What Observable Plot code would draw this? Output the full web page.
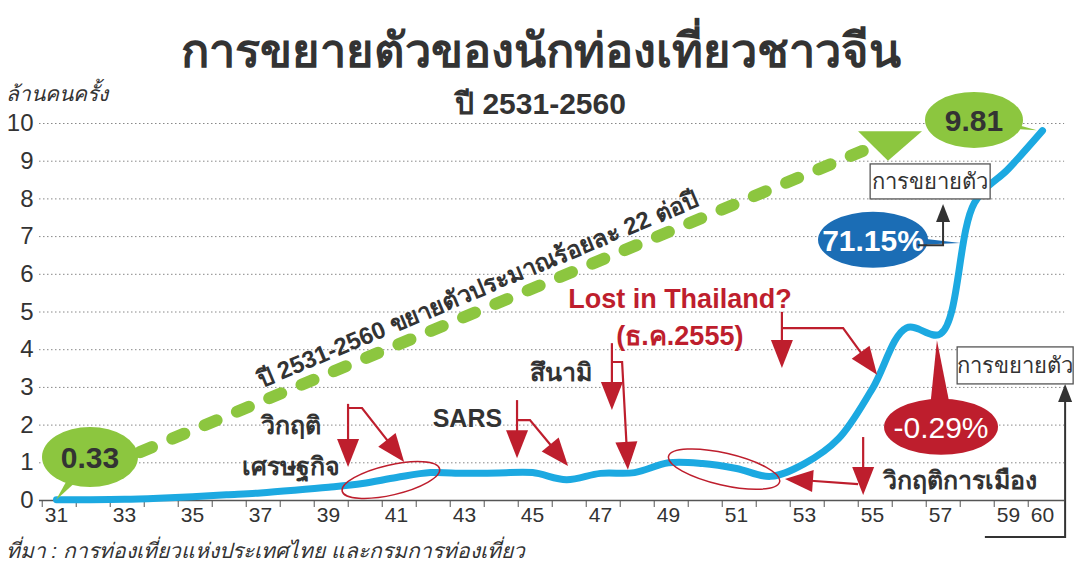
<!DOCTYPE html>
<html><head><meta charset="utf-8">
<script src="https://cdn.jsdelivr.net/npm/d3@7"></script>
<script src="https://cdn.jsdelivr.net/npm/@observablehq/plot@0.6"></script>
<style>
body{margin:0;background:#fff;}
#chart{width:1075px;height:577px;}
</style></head><body><div id="chart"></div>
<script>
// ---- data ----
const years = [31,32,33,34,35,36,37,38,39,40,41,42,43,44,45,46,47,48,49,50,51,52,53,54,55,56,57,58,59,60];
const visitors = [0.02,0.02,0.03,0.06,0.10,0.15,0.20,0.27,0.35,0.45,0.61,0.74,0.72,0.73,0.74,0.55,0.72,0.74,1.0,0.98,0.85,0.64,0.98,1.64,2.97,4.58,4.42,7.9,8.8,9.81];
const yTicks = [0,1,2,3,4,5,6,7,8,9,10];
const xLabelYears = [31,33,35,37,39,41,43,45,47,49,51,53,55,57,59,60];
const title = "การขยายตัวของนักท่องเที่ยวชาวจีน";
const subtitle = "ปี 2531-2560";
const unitLabel = "ล้านคนครั้ง";
const sourceLabel = "ที่มา : การท่องเที่ยวแห่งประเทศไทย และกรมการท่องเที่ยว";
const trendLabel = "ปี 2531-2560 ขยายตัวประมาณร้อยละ 22 ต่อปี";
const startValue = "0.33", endValue = "9.81";
const growth58 = "71.15%", growth57 = "-0.29%";
const growthBoxLabel = "การขยายตัว";
const events = [
  {lines:["วิกฤติ","เศรษฐกิจ"], x:37.9, y:[1.99,0.9]},
  {lines:["SARS"], x:43.1, y:[2.18]},
  {lines:["สึนามิ"], x:45.85, y:[3.4]},
  {lines:["วิกฤติการเมือง"], x:57.6, y:[0.53]}
];

const FONT = "'Liberation Sans Narrow','Liberation Sans',Arial,sans-serif";
const DARK = "#333", RED = "#be1e2d", GREEN = "#8cc63f", BLUE = "#1ca9e1", DBLUE = "#1b6db5";

const data = years.map((yr,i)=>({yr, v: visitors[i]}));

function arrow(g, pts, color, L, W, sw) {
  const [x1,y1] = pts[pts.length-2], [x2,y2] = pts[pts.length-1];
  const dx=x2-x1, dy=y2-y1, len=Math.hypot(dx,dy), ux=dx/len, uy=dy/len;
  const bx=x2-ux*L, by=y2-uy*L;
  const linePts = pts.slice(0,-1).concat([[bx+ux*2,by+uy*2]]);
  g.append("path").attr("d", d3.line()(linePts)).attr("fill","none").attr("stroke",color).attr("stroke-width",sw).attr("stroke-linejoin","miter");
  g.append("path").attr("d", `M${x2},${y2}L${bx-uy*W},${by+ux*W}L${bx+uy*W},${by-ux*W}Z`).attr("fill",color);
}
function bubble(g, cx, cy, rx, ry, tip, tailW, fill, label, color, fs, fw) {
  const dx = tip[0]-cx, dy = tip[1]-cy, len=Math.hypot(dx,dy), px=-dy/len, py=dx/len;
  g.append("path").attr("d", `M${cx+px*tailW},${cy+py*tailW}L${tip[0]},${tip[1]}L${cx-px*tailW},${cy-py*tailW}Z`).attr("fill",fill);
  g.append("ellipse").attr("cx",cx).attr("cy",cy).attr("rx",rx).attr("ry",ry).attr("fill",fill);
  g.append("text").attr("x",cx).attr("y",cy).attr("dy","0.36em").attr("text-anchor","middle")
    .attr("font-size",fs).attr("font-weight",fw).attr("fill",color).text(label);
}
function box(g, cx, cy, w, h, label) {
  g.append("rect").attr("x",cx-w/2).attr("y",cy-h/2).attr("width",w).attr("height",h)
    .attr("fill","#fff").attr("stroke","#555").attr("stroke-width",1.3);
  g.append("text").attr("x",cx).attr("y",cy).attr("dy","0.36em").attr("text-anchor","middle")
    .attr("font-size",22).attr("fill",DARK).text(label);
}

function annotations(index, scales) {
  const x = scales.x, y = scales.y;
  const P = (a,b) => [x(a), y(b)];
  const g = d3.create("svg:g").attr("font-family", FONT);

  // red ellipses around crisis periods
  [[40.85,0.53,50,15,-13],[50.65,0.82,57,16,13]].forEach(([a,b,rx,ry,r])=>{
    const [cx,cy] = P(a,b);
    g.append("ellipse").attr("cx",cx).attr("cy",cy).attr("rx",rx).attr("ry",ry)
      .attr("transform",`rotate(${r},${cx},${cy})`).attr("fill","none").attr("stroke",RED).attr("stroke-width",1.5);
  });

  // red event arrows
  const redArrows = [
    [[39.59,2.55],[39.59,0.875]],
    [[39.59,2.44],[40.0,2.44],[41.24,1.01]],
    [[44.56,2.65],[44.56,1.11]],
    [[44.56,2.12],[44.94,2.12],[46.06,0.9]],
    [[47.35,4.16],[47.35,2.39]],
    [[47.35,3.66],[47.65,3.66],[47.82,0.8]],
    [[52.35,4.99],[52.35,3.5]],
    [[52.35,4.56],[54.15,4.56],[55.15,3.32]],
    [[54.74,1.67],[54.74,0.13]],
    [[54.59,0.42],[52.44,0.56]]
  ];
  redArrows.forEach(pts => arrow(g, pts.map(p=>P(...p)), RED, 28, 11, 2.2));

  // green trend dashed line
  const t0 = P(33.47,1.27), t1 = P(54.94,9.34);
  g.append("line").attr("x1",t0[0]).attr("y1",t0[1]).attr("x2",t1[0]).attr("y2",t1[1])
    .attr("stroke",GREEN).attr("stroke-width",12).attr("stroke-linecap","round").attr("stroke-dasharray","13,22");
  const h1 = P(54.59,9.78), h2 = P(56.47,9.78), h3 = P(55.47,9.0);
  g.append("path").attr("d",`M${h1}L${h2}L${h3}Z`).attr("fill",GREEN);
  // trend label
  const tl = P(43.4,5.6);
  g.append("text").attr("transform",`translate(${tl}) rotate(-22.6)`).attr("text-anchor","middle").attr("dy","0.36em")
    .attr("font-size",24).attr("font-weight","bold").attr("fill",DARK).text(trendLabel);

  // bubbles
  {const c=P(32.0,1.14); bubble(g,c[0],c[1],48,30,P(31,0),9,GREEN,startValue,DARK,30,"bold");}
  {const c=P(58.0,10.08); bubble(g,c[0],c[1],49,28,P(59.85,9.81),7,GREEN,endValue,DARK,30,"bold");}
  {const c=P(55.03,6.9); bubble(g,c[0],c[1],55,28,P(57.6,6.82),7,DBLUE,growth58,"#fff",30,"bold");}
  {const c=P(57.03,1.94); bubble(g,c[0],c[1],57,28,P(56.91,4.24),13,RED,growth57,"#fff",30,"normal");}

  // black arrows to growth boxes
  arrow(g, [P(56.35,6.76),P(57.09,6.76),P(57.09,7.85)], "#333", 18, 7, 2);
  arrow(g, [P(58.32,-0.98),P(60.68,-0.98),P(60.68,3.08)], "#333", 18, 7, 2);

  {const c=P(56.71,8.45); box(g,c[0],c[1],120,35,growthBoxLabel);}
  {const c=P(59.21,3.57); box(g,c[0],c[1],116,37,growthBoxLabel);}

  // event labels
  events.forEach(e => e.lines.forEach((s,i)=>{
    const c = P(e.x, e.y[i]);
    g.append("text").attr("x",c[0]).attr("y",c[1]).attr("dy","0.36em").attr("text-anchor","middle")
      .attr("font-size",25).attr("font-weight","bold").attr("fill",DARK).text(s);
  }));
  {const c=P(49.35,5.36); g.append("text").attr("x",c[0]).attr("y",c[1]).attr("dy","0.36em").attr("text-anchor","middle")
      .attr("font-size",27).attr("font-weight","bold").attr("fill",RED).text("Lost in Thailand?");}
  {const c=P(49.35,4.38); g.append("text").attr("x",c[0]).attr("y",c[1]).attr("dy","0.36em").attr("text-anchor","middle")
      .attr("font-size",27).attr("font-weight","bold").attr("fill",RED).text("(ธ.ค.2555)");}
  return g.node();
}

const chart = Plot.plot({
  width: 1075, height: 577,
  marginTop: 123, marginBottom: 77, marginLeft: 56, marginRight: 33,
  x: {domain: [31, 60], axis: null},
  y: {domain: [0, 10], axis: null},
  style: {fontFamily: FONT, background: "#fff", overflow: "visible"},
  marks: [
    Plot.ruleY(yTicks.filter(d => d > 0), {x1: 30.5, x2: 60.65, stroke: "#888", strokeWidth: 1, strokeDasharray: "1.5,2.5"}),
    Plot.ruleY([0], {x1: 30.5, x2: 60.65, stroke: "#555", strokeWidth: 1.5}),
    Plot.axisX(years.map(d => d - 0.42), {tickSize: 7, tickFormat: () => "", stroke: "#555", label: null}),
    Plot.text(xLabelYears, {x: d => d, frameAnchor: "bottom", dy: 21, fontSize: 21, fill: DARK}),
    Plot.text(yTicks, {y: d => d, frameAnchor: "left", dx: -23, textAnchor: "end", fontSize: 24, fill: DARK}),
    Plot.line(data, {x: "yr", y: "v", stroke: BLUE, strokeWidth: 7, curve: "catmull-rom"}),
    annotations,
    Plot.text([title], {frameAnchor: "top", dx: -9, dy: -90, fontSize: 47, fontWeight: "900", fill: DARK}),
    Plot.text([subtitle], {frameAnchor: "top", dx: -9, dy: -31, fontSize: 30, fontWeight: "bold", fill: DARK}),
    Plot.text([unitLabel], {frameAnchor: "top-left", dx: -51, dy: -37, textAnchor: "start", fontSize: 21, fontStyle: "italic", fill: DARK}),
    Plot.text([sourceLabel], {frameAnchor: "bottom-left", dx: -51, dy: 57, textAnchor: "start", fontSize: 21, fontStyle: "italic", fill: DARK})
  ]
});
document.getElementById("chart").appendChild(chart);
</script>
</body></html>
